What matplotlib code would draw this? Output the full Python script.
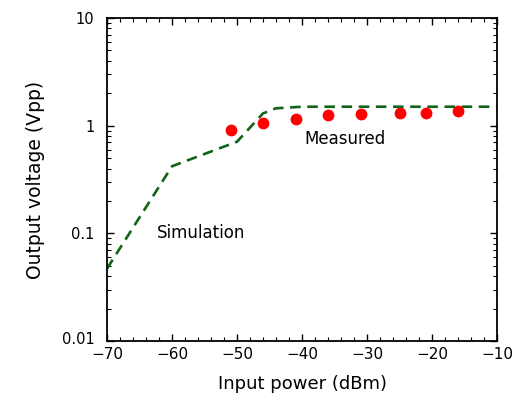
import numpy as np
import matplotlib
matplotlib.use("Agg")
import matplotlib.pyplot as plt
import matplotlib.transforms as mtransforms
from matplotlib.ticker import MultipleLocator, FixedLocator, FixedFormatter, LogLocator, NullFormatter

plt.rcParams["font.family"] = ["DejaVu Sans"]

# simulation curve (dashed)
sim_x = [-70, -60, -50, -46, -44, -40, -10]
sim_y = [0.047, 0.42, 0.71, 1.3, 1.45, 1.5, 1.5]

# measured points
meas_x = [-51, -46, -41, -36, -31, -25, -21, -16]
meas_y = [0.91, 1.07, 1.15, 1.26, 1.28, 1.30, 1.32, 1.37]

xticks = [-70, -60, -50, -40, -30, -20, -10]
xtick_labels = ["\u221270", "\u221260", "\u221250", "\u221240", "\u221230", "\u221220", "\u221210"]
yticks = [0.01, 0.1, 1, 10]
ytick_labels = ["0.01", "0.1", "1", "10"]

fig = plt.figure(figsize=(5.18, 3.96), dpi=100)
ax = fig.add_axes([0.2066, 0.1389, 0.7529, 0.8156])

ax.plot(sim_x, sim_y, color="#0f6417", lw=1.9, dashes=(4, 2.5))
ax.plot(meas_x, meas_y, "o", color="#ff0000", ms=8.5, mec="none")

ax.set_yscale("log")
ax.set_xlim(-70, -10)
ax.set_ylim(0.01, 10)
ax.xaxis.set_major_locator(FixedLocator(xticks))
ax.xaxis.set_major_formatter(FixedFormatter(xtick_labels))
ax.xaxis.set_minor_locator(MultipleLocator(2))
ax.yaxis.set_major_locator(FixedLocator(yticks))
ax.yaxis.set_major_formatter(FixedFormatter(ytick_labels))
ax.yaxis.set_minor_locator(LogLocator(base=10, subs=np.arange(2, 10)))
ax.yaxis.set_minor_formatter(NullFormatter())

ax.tick_params(which="both", direction="in", top=True, right=True)
ax.tick_params(which="major", length=5, width=1)
ax.tick_params(which="minor", length=3, width=0.8)
ax.tick_params(axis="x", pad=4, labelsize=11)
ax.tick_params(axis="y", pad=9, labelsize=10.5)
for s in ax.spines.values():
    s.set_linewidth(1.3)

fig.canvas.draw()
# the bottom y label sits a little above its tick
lab = ax.yaxis.get_majorticklabels()[0]
lab.set_transform(lab.get_transform() + mtransforms.ScaledTranslation(0, 3 / 100, fig.dpi_scale_trans))

ax.text(-33.4, 0.75, "Measured", fontsize=12, ha="center", va="center")
ax.text(-55.6, 0.1, "Simulation", fontsize=12, ha="center", va="center")

ax.set_xlabel("Input power (dBm)", fontsize=13, labelpad=10)
ax.set_ylabel("Output voltage (Vpp)", fontsize=13.5, labelpad=12)

fig.savefig("out.png", dpi=100)
